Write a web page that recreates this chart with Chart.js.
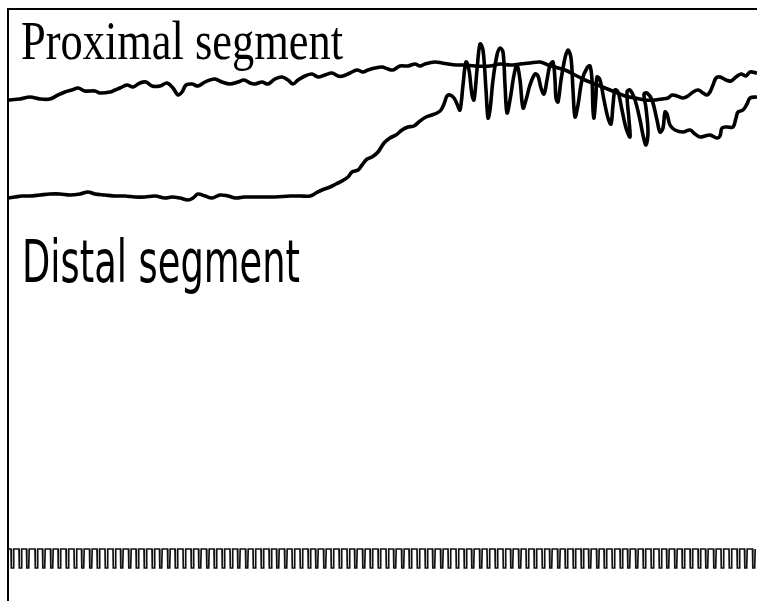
<!DOCTYPE html>
<html>
<head>
<meta charset="utf-8">
<script src="https://cdn.jsdelivr.net/npm/chart.js@4/dist/chart.umd.min.js"></script>
<style>
  body { margin: 0; background: #fff; }
  #wrap { width: 757px; height: 601px; }
</style>
</head>
<body>
<div id="wrap"><canvas id="trace" width="757" height="601"></canvas></div>
<script>
var proxTime = [0, 1.2, 2.2, 3.2, 4.2, 5.0, 5.7, 6.4, 7.0, 7.7, 8.7, 9.2, 10.2, 10.7, 11.2, 11.9, 12.5, 13.2, 13.8, 14.4,
  15.2, 15.9, 16.5, 17.0, 17.4, 17.8, 18.4, 19.0, 19.7, 20.2, 20.7, 21.4, 22.2, 23.0, 23.6, 24.2, 24.7, 25.4, 26.0, 26.7,
  27.4, 28.0, 28.5, 29.0, 29.7, 30.4, 31.0, 31.7, 32.4, 33.0, 33.5, 34.2, 34.9, 35.5, 36.0, 36.7, 37.4, 38.0, 38.5, 39.2,
  40.0, 40.7, 41.2, 41.7, 42.7, 43.4, 44.0, 44.8, 45.7, 46.7, 48.2, 49.2, 50.2, 51.2, 52.2, 53.2, 54.0, 54.7, 55.7, 56.7,
  57.7, 58.7, 59.7, 60.7, 61.7, 62.7, 63.7, 64.7, 65.4, 66.0, 66.4, 66.9, 67.5, 68.0, 68.5, 69.0, 69.5, 69.9, 70.2, 70.5,
  70.8, 71.2, 71.8, 72.3, 72.8, 73.3, 73.8, 74.2, 74.9];
var proxValue = [50.1, 50.2, 50.4, 50.2, 50.2, 50.6, 50.9, 51.1, 51.3, 51.0, 51.0, 50.8, 50.9, 51.1, 51.3, 51.6, 51.4, 51.8, 51.9, 51.5,
  51.5, 51.8, 51.3, 50.6, 50.9, 51.6, 51.7, 51.5, 51.9, 52.1, 52.2, 51.9, 51.7, 51.9, 52.1, 51.8, 51.7, 51.9, 51.7, 52.2,
  52.4, 52.1, 51.7, 52.1, 52.5, 52.7, 52.4, 52.6, 52.8, 52.5, 52.5, 52.8, 53.1, 52.9, 53.1, 53.3, 53.4, 53.2, 53.1, 53.5,
  53.5, 53.7, 53.5, 53.7, 53.9, 53.8, 53.7, 53.6, 53.6, 53.5, 53.5, 53.7, 53.6, 53.7, 53.8, 53.9, 53.6, 53.4, 53.1, 52.6,
  52.1, 51.7, 51.3, 50.9, 50.5, 50.3, 50.1, 50.1, 50.2, 50.3, 50.6, 50.5, 50.3, 50.5, 50.9, 51.1, 50.8, 50.6, 50.9, 51.6,
  52.3, 52.4, 52.1, 52.0, 52.4, 52.7, 52.5, 52.9, 52.8];

var distTime = [0, 0.7, 1.4, 2.2, 3.2, 4.2, 5.2, 6.2, 7.2, 8.0, 8.7, 9.7, 10.7, 11.7, 12.7, 13.7, 14.7, 15.7, 16.4, 17.2,
  18.0, 18.5, 19.0, 19.7, 20.4, 21.2, 22.0, 22.8, 23.6, 24.4, 25.4, 26.7, 28.2, 29.2, 30.2, 30.8, 31.4, 32.2, 32.8, 33.4,
  34.0, 34.4, 35.0, 35.4, 35.9, 36.4, 37.0, 37.6, 38.2, 38.8, 39.4, 40.0, 40.6, 41.2, 41.8, 42.4, 42.9, 43.3, 43.6, 43.9,
  44.2, 44.6, 44.9, 45.2, 45.5, 45.8, 46.1, 46.4, 46.6, 46.9, 47.2, 47.5, 47.8, 48.0, 48.2, 48.5, 48.9, 49.2, 49.5, 49.7,
  49.9, 50.2, 50.6, 50.9, 51.2, 51.5, 51.8, 52.2, 52.7, 53.0, 53.3, 53.6, 53.9, 54.2, 54.5, 54.7, 54.8, 55.0, 55.3, 55.7,
  56.0, 56.3, 56.5, 56.7, 57.0, 57.4, 57.9, 58.2, 58.4, 58.5, 58.6, 58.8, 58.9, 59.2, 59.6, 60.0, 60.3, 60.5, 60.7, 61.0,
  61.4, 61.8, 62.2, 62.1, 61.9, 62.2, 62.7, 63.2, 63.5, 63.8, 64.0, 63.8, 63.6, 63.9, 64.4, 64.9, 65.2, 65.5, 65.7, 65.9,
  66.2, 66.7, 67.5, 68.2, 68.7, 69.2, 69.7, 70.2, 70.9, 71.2, 71.4, 71.9, 72.5, 72.8, 73.0, 73.5, 73.9, 74.2, 74.9];
var distValue = [40.3, 40.4, 40.5, 40.5, 40.6, 40.7, 40.7, 40.6, 40.7, 40.9, 40.7, 40.6, 40.5, 40.5, 40.4, 40.4, 40.5, 40.3, 40.4, 40.3,
  40.1, 40.3, 40.7, 40.5, 40.3, 40.6, 40.5, 40.3, 40.4, 40.4, 40.4, 40.4, 40.5, 40.5, 40.5, 40.8, 41.1, 41.4, 41.7, 42.0,
  42.4, 42.9, 43.1, 43.6, 44.2, 44.4, 44.9, 45.8, 46.3, 46.6, 47.1, 47.4, 47.5, 48.0, 48.4, 48.6, 48.8, 49.1, 49.7, 50.5,
  50.6, 50.3, 49.7, 49.1, 51.6, 53.9, 53.1, 50.6, 50.1, 53.1, 55.7, 55.1, 51.1, 48.3, 49.1, 52.1, 54.6, 55.3, 54.9, 51.6,
  48.8, 50.1, 52.6, 53.6, 52.1, 49.3, 50.1, 51.6, 52.7, 52.5, 51.3, 50.7, 52.1, 53.6, 53.9, 52.1, 50.3, 49.9, 52.1, 54.3,
  55.1, 54.3, 51.1, 48.4, 49.6, 52.1, 53.3, 53.5, 52.1, 49.1, 48.3, 50.6, 52.4, 52.1, 50.1, 48.3, 47.7, 49.6, 51.1, 50.9,
  49.1, 47.3, 46.4, 48.1, 50.9, 51.1, 50.1, 48.1, 46.6, 45.6, 46.9, 49.3, 50.7, 50.8, 50.1, 48.1, 46.9, 47.3, 48.9, 48.7,
  47.6, 47.1, 46.9, 47.1, 46.7, 46.4, 46.5, 46.6, 46.3, 46.5, 47.3, 47.4, 47.4, 48.3, 48.9, 49.1, 49.7, 50.3, 50.4];

// time marker: moments where the pen drops
var markTimes = [0.3, 1.1, 1.85, 2.7, 3.45, 4.25, 5.0, 5.8, 6.6, 7.35, 8.15, 8.9, 9.7, 10.5, 11.25, 12.05, 12.8, 13.6,
  14.4, 15.15, 15.95, 16.7, 17.5, 18.3, 19.05, 19.85, 20.6, 21.4, 22.2, 22.95, 23.75, 24.5, 25.3, 26.1, 26.85, 27.65,
  28.4, 29.2, 30.0, 30.75, 31.55, 32.3, 33.1, 33.9, 34.65, 35.45, 36.2, 37.0, 37.8, 38.55, 39.35, 40.1, 40.9, 41.7,
  42.45, 43.25, 44.0, 44.8, 45.6, 46.35, 47.15, 47.9, 48.7, 49.5, 50.25, 51.05, 51.8, 52.6, 53.4, 54.15, 54.95, 55.7,
  56.5, 57.3, 58.05, 58.85, 59.6, 60.4, 61.2, 61.95, 62.75, 63.5, 64.3, 65.1, 65.85, 66.65, 67.4, 68.2, 69.0, 69.75,
  70.55, 71.3, 72.1, 72.9, 73.65, 74.45];
var markHigh = 5.2, markLow = 3.3;

var labels = [
  { text: 'Proximal segment', font: '54px "Liberation Serif"', x: 21, y: 59, w: 322 },
  { text: 'Distal segment', font: '58px "Liberation Sans Narrow", "DejaVu Sans Condensed", sans-serif', x: 22, y: 282, w: 278 }
];

function pairs(xs, ys) {
  return xs.map(function(x, i) { return { x: x, y: ys[i] }; });
}

function markerPoints() {
  var pts = [{ x: 0, y: markHigh }];
  markTimes.forEach(function(t) {
    pts.push({ x: t, y: markHigh });
    pts.push({ x: t + 0.03, y: markLow });
    pts.push({ x: t + 0.22, y: markLow });
    pts.push({ x: t + 0.27, y: markHigh });
  });
  return pts;
}

var textPlugin = {
  id: 'segmentText',
  afterDatasetsDraw: function(chart) {
    var ctx = chart.ctx;
    labels.forEach(function(l) {
      ctx.save();
      ctx.font = l.font;
      ctx.fillStyle = '#000';
      ctx.textBaseline = 'alphabetic';
      var sx = l.w / ctx.measureText(l.text).width;
      ctx.translate(l.x, l.y);
      ctx.scale(sx, 1);
      ctx.fillText(l.text, 0, 0);
      ctx.restore();
    });
  }
};

var ctx = document.getElementById('trace');
new Chart(ctx, {
  type: 'line',
  data: {
    datasets: [
      { label: 'Proximal', data: pairs(proxTime, proxValue), borderColor: '#000', borderWidth: 3.6, tension: 0.35 },
      { label: 'Distal', data: pairs(distTime, distValue), borderColor: '#000', borderWidth: 3.6, tension: 0.35 },
      { label: 'Time', data: markerPoints(), borderColor: '#111', borderWidth: 1.7, tension: 0 }
    ]
  },
  options: {
    responsive: false,
    animation: false,
    events: [],
    layout: { padding: { left: 0, top: 1, right: 0, bottom: 0 } },
    elements: { point: { radius: 0 } },
    plugins: { legend: { display: false }, tooltip: { enabled: false } },
    scales: {
      x: {
        type: 'linear', position: 'top', min: 0, max: 74.9,
        ticks: { display: false },
        grid: { display: false },
        border: { display: true, color: '#000', width: 2 }
      },
      y: {
        min: 0, max: 59.2,
        ticks: { display: false },
        grid: { display: false },
        border: { display: true, color: '#000', width: 2 }
      }
    }
  },
  plugins: [textPlugin]
});
</script>
</body>
</html>
